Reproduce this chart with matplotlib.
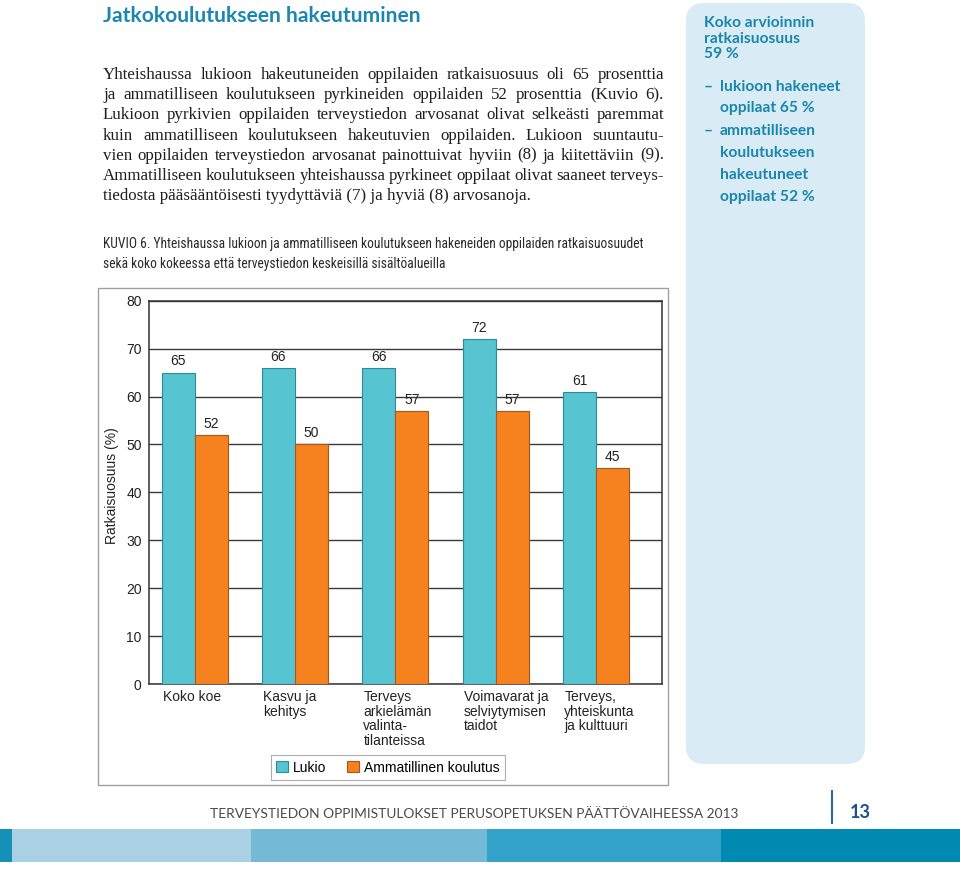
import matplotlib
matplotlib.use("Agg")
import matplotlib.pyplot as plt
import matplotlib.transforms as mtransforms
from matplotlib import font_manager as fm
from matplotlib.patches import FancyBboxPatch, Rectangle, Patch
from matplotlib.lines import Line2D
import numpy as np

# ---------------- data ----------------
categories = ["Koko koe", "Kasvu ja\nkehitys", "Terveys\narkielämän\nvalinta-\ntilanteissa",
              "Voimavarat ja\nselviytymisen\ntaidot", "Terveys,\nyhteiskunta\nja kulttuuri"]
lukio = [65, 66, 66, 72, 61]
ammatillinen = [52, 50, 57, 57, 45]
series_names = ["Lukio", "Ammatillinen koulutus"]
y_ticks = [0, 10, 20, 30, 40, 50, 60, 70, 80]
y_label = "Ratkaisuosuus (%)"

title = "Jatkokoulutukseen hakeutuminen"
paragraph = [
    "Yhteishaussa lukioon hakeutuneiden oppilaiden ratkaisuosuus oli 65 prosenttia",
    "ja ammatilliseen koulutukseen pyrkineiden oppilaiden 52 prosenttia (Kuvio 6).",
    "Lukioon pyrkivien oppilaiden terveystiedon arvosanat olivat selkeästi paremmat",
    "kuin ammatilliseen koulutukseen hakeutuvien oppilaiden. Lukioon suuntautu-",
    "vien oppilaiden terveystiedon arvosanat painottuivat hyviin (8) ja kiitettäviin (9).",
    "Ammatilliseen koulutukseen yhteishaussa pyrkineet oppilaat olivat saaneet terveys-",
    "tiedosta pääsääntöisesti tyydyttäviä (7) ja hyviä (8) arvosanoja.",
]
caption = [
    "KUVIO 6. Yhteishaussa lukioon ja ammatilliseen koulutukseen hakeneiden oppilaiden ratkaisuosuudet",
    "sekä koko kokeessa että terveystiedon keskeisillä sisältöalueilla",
]
box_head = ["Koko arvioinnin", "ratkaisuosuus", "59 %"]
box_items = [["lukioon hakeneet", "oppilaat 65 %"],
             ["ammatilliseen", "koulutukseen", "hakeutuneet", "oppilaat 52 %"]]
footer = "TERVEYSTIEDON OPPIMISTULOKSET PERUSOPETUKSEN PÄÄTTÖVAIHEESSA 2013"
page_no = "13"


# ---------------- fonts ----------------
def has_font(name):
    try:
        fm.findfont(fm.FontProperties(family=name), fallback_to_default=False)
        return True
    except Exception:
        return False


def condensed_props():
    for name in ["Liberation Sans Narrow", "Roboto Condensed", "Open Sans Condensed", "Noto Sans Condensed"]:
        if has_font(name):
            return {"family": name}
    for f in fm.fontManager.ttflist:
        if f.name == "DejaVu Sans" and "condensed" in str(f.stretch).lower():
            return {"family": "DejaVu Sans", "stretch": "condensed"}
    return {"family": "Liberation Sans"}


SANS = "Liberation Sans"
SERIF = "Liberation Serif"
HEAD = "Lato" if has_font("Lato") else "DejaVu Sans"
COND = condensed_props()

# ---------------- figure ----------------
W, H = 960, 869
fig = plt.figure(figsize=(W / 100, H / 100), dpi=100)
fig.patch.set_facecolor("white")
R = fig.canvas.get_renderer()
PX = mtransforms.IdentityTransform()


def ftxt(x, y, s, **kw):
    return fig.text(x / W, 1 - y / H, s, **kw)


def width(t):
    return t.get_window_extent(R).width


def fit(t, w):
    t.set_fontsize(t.get_fontsize() * w / width(t))
    return t.get_fontsize()


TEAL = "#1b87b0"

# title
t = ftxt(103, 21.5, title, family=HEAD, weight="bold", color=TEAL, fontsize=16, va="baseline")
fit(t, 318)

# paragraph (justified)
X0, TW = 103, 561
BASE0, LEAD = 79, 20.2
fs0 = 12.5
best = None
for ln in paragraph[:-1]:
    words = ln.split(" ")
    ts = [ftxt(0, 0, w, family=SERIF, fontsize=fs0) for w in words]
    wsum = sum(width(tt) for tt in ts)
    for tt in ts:
        tt.remove()
    em = fs0 * 100 / 72
    # font size where words + minimum gaps (0.2 em) just fill the line
    f = fs0 * TW / (wsum + 0.2 * em * (len(words) - 1))
    best = f if best is None else min(best, f)
fs = best
for i, ln in enumerate(paragraph):
    yb = BASE0 + i * LEAD
    if i == len(paragraph) - 1:
        ftxt(X0, yb, ln, family=SERIF, fontsize=fs, color="#1e1e1e", va="baseline")
        continue
    words = ln.split(" ")
    ts = [ftxt(0, yb, w, family=SERIF, fontsize=fs, color="#1e1e1e", va="baseline") for w in words]
    ws = [width(tt) for tt in ts]
    gap = (TW - sum(ws)) / (len(words) - 1)
    x = X0
    for tt, w in zip(ts, ws):
        tt.set_x(x / W)
        x += w + gap

# caption
c1 = ftxt(103, 248, caption[0], fontsize=11, color="#2a2a2a", va="baseline", **COND)
cfs = fit(c1, 540)
ftxt(103, 268, caption[1], fontsize=cfs, color="#2a2a2a", va="baseline", **COND)

# side box
fig.add_artist(FancyBboxPatch((686, H - 764), 179, 761, boxstyle="round,pad=0,rounding_size=18",
                              transform=PX, fc="#d9ecf5", ec="none", zorder=0))
BOXC = "#1a86ad"
probe = ftxt(720, 0, box_items[0][0], family=HEAD, weight="bold", fontsize=11)
bfs = fit(probe, 120)
probe.remove()
for j, s in enumerate(box_head):
    ftxt(704, [23, 39, 54][j], s, family=HEAD, weight="bold", fontsize=bfs, color=BOXC, va="center")
ys = [[87, 108], [131, 153, 175, 197]]
for item, yy in zip(box_items, ys):
    ftxt(704, yy[0], "–", family=HEAD, weight="bold", fontsize=bfs, color=BOXC, va="center")
    for s, y in zip(item, yy):
        ftxt(720, y, s, family=HEAD, weight="bold", fontsize=bfs, color=BOXC, va="center")

# chart frame
fig.add_artist(Rectangle((97.7, H - 785), 668.3 - 97.7, 785 - 288.3, transform=PX,
                         fill=False, ec="#a0a0a0", lw=1))

# chart axes
AX_L, AX_R, AX_T, AX_B = 149.3, 662, 300.7, 684
ax = fig.add_axes([AX_L / W, 1 - AX_B / H, (AX_R - AX_L) / W, (AX_B - AX_T) / H])
ax.set_facecolor("white")
C1, E1 = "#57c4d1", "#2f8a98"
C2, E2 = "#f5821f", "#a9561a"
x = np.arange(len(categories))
bw = 0.3285
b1 = ax.bar(x - bw / 2, lukio, bw, color=C1, edgecolor=E1, lw=0.8, zorder=3, label=series_names[0])
b2 = ax.bar(x + bw / 2, ammatillinen, bw, color=C2, edgecolor=E2, lw=0.8, zorder=3, label=series_names[1])
ax.set_xlim(-0.45, 4.654)
ax.set_ylim(0, 80)
ax.set_yticks(y_ticks)
ax.set_xticks([])
ax.yaxis.grid(True, color="#3a3a3a", lw=1.0)
ax.set_axisbelow(True)
ax.tick_params(axis="y", length=0, pad=5.5, labelsize=10, labelcolor="#222222")
for lab in ax.get_yticklabels():
    lab.set_family(SANS)
for sp in ax.spines.values():
    sp.set_color("#333333")
    sp.set_linewidth(1.1)
ax.bar_label(b1, labels=[str(v) for v in lukio], padding=3, fontsize=10, family=SANS, color="#222222")
ax.bar_label(b2, labels=[str(v) for v in ammatillinen], padding=3, fontsize=10, family=SANS, color="#222222")

ftxt(111.7, 485.7, y_label, family=SANS, fontsize=10, color="#222222", rotation=90, ha="center", va="center")

trans = mtransforms.blended_transform_factory(ax.transData, fig.transFigure)
for i, c in enumerate(categories):
    for j, line in enumerate(c.split("\n")):
        ax.text(i - bw + 0.01, 1 - (697 + j * 14.6) / H, line, transform=trans, ha="left", va="center",
                family=SANS, fontsize=10, color="#222222")

handles = [Patch(facecolor=C1, edgecolor=E1, lw=0.8), Patch(facecolor=C2, edgecolor=E2, lw=0.8)]
leg = fig.legend(handles, series_names, loc="center", bbox_to_anchor=(388 / W, 1 - 767.5 / H), ncol=2,
                 frameon=True, fancybox=False, edgecolor="#999999", prop={"family": SANS, "size": 10},
                 handlelength=0.85, handleheight=0.85, handletextpad=0.35, columnspacing=1.5, borderpad=0.4)
leg.get_frame().set_linewidth(0.8)

# footer
ft = ftxt(210, 818, footer, family=HEAD, weight="normal", fontsize=10, color="#4a4a4a", va="baseline")
fit(ft, 528)
fig.add_artist(Line2D([832, 832], [H - 791, H - 823], transform=PX, color="#2a6aa0", lw=1.5))
ftxt(850, 818, page_no, family=HEAD, weight="bold", fontsize=13, color="#1b4f8c", va="baseline")

band = [(0, 12, "#1590b8"), (12, 251, "#a9d1e3"), (251, 487, "#74b9d5"),
        (487, 721, "#33a2c8"), (721, 960, "#0089b1")]
for x0, x1, col in band:
    fig.add_artist(Rectangle((x0, H - 862), x1 - x0, 33, transform=PX, fc=col, ec="none"))

fig.savefig("out.png", dpi=100)
